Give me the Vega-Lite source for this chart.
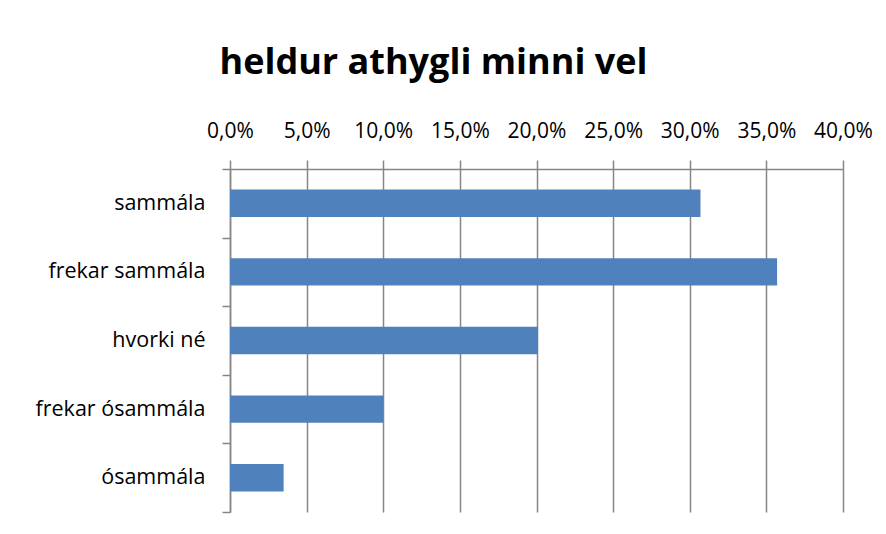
{
  "$schema": "https://vega.github.io/schema/vega-lite/v6.json",
  "autosize": "none",
  "width": 613,
  "height": 343,
  "padding": {"left": 230, "top": 169, "right": 43, "bottom": 22},
  "background": "white",
  "title": {
    "text": "heldur athygli minni vel",
    "font": "Open Sans",
    "fontSize": 36,
    "fontWeight": "bold",
    "color": "#000000",
    "anchor": "middle",
    "dx": -103,
    "offset": 38
  },
  "data": {
    "values": [
      {"svar": "sammála", "hlutfall": 30.7},
      {"svar": "frekar sammála", "hlutfall": 35.7},
      {"svar": "hvorki né", "hlutfall": 20.1},
      {"svar": "frekar ósammála", "hlutfall": 10.0},
      {"svar": "ósammála", "hlutfall": 3.5}
    ]
  },
  "mark": {"type": "bar", "color": "#4F81BD", "height": {"band": 0.4}},
  "encoding": {
    "y": {
      "field": "svar",
      "type": "nominal",
      "sort": null,
      "title": null,
      "scale": {"paddingInner": 0, "paddingOuter": 0},
      "axis": {
        "orient": "left",
        "tickBand": "extent",
        "tickSize": 8,
        "tickColor": "#868686",
        "tickWidth": 1.5,
        "domainColor": "#868686",
        "domainWidth": 1.5,
        "labelFont": "Open Sans",
        "labelFontSize": 21.5,
        "labelColor": "#000000",
        "labelPadding": 17,
        "grid": false
      }
    },
    "x": {
      "field": "hlutfall",
      "type": "quantitative",
      "title": null,
      "scale": {"domain": [0, 40], "nice": false},
      "axis": {
        "orient": "top",
        "values": [0, 5, 10, 15, 20, 25, 30, 35, 40],
        "labelExpr": "replace(format(datum.value, '.1f'), '.', ',') + '%'",
        "tickSize": 9,
        "tickColor": "#868686",
        "tickWidth": 1.5,
        "domainColor": "#868686",
        "domainWidth": 1.5,
        "grid": true,
        "gridColor": "#868686",
        "gridWidth": 1.5,
        "labelFont": "Open Sans",
        "labelFontSize": 21,
        "labelColor": "#000000",
        "labelPadding": 19,
        "labelFlush": false
      }
    }
  },
  "config": {"view": {"stroke": null}}
}
